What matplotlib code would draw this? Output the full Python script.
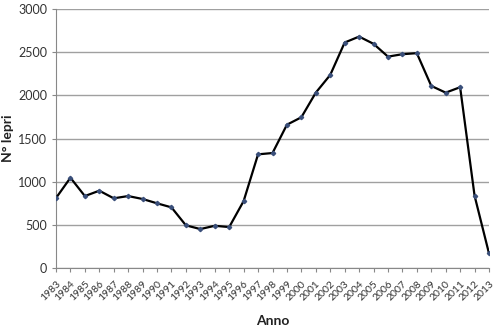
import numpy as np
import matplotlib.pyplot as plt

plt.rcParams['font.family'] = ['Lato', 'DejaVu Sans']

# dati: numero di lepri per anno
anni = list(range(1983, 2014))
lepri = [811, 1046, 834, 896, 808, 834, 800, 750, 703, 495,
         452, 490, 475, 776, 1317, 1332, 1660, 1746, 2031, 2236,
         2611, 2680, 2596, 2448, 2476, 2488, 2109, 2031, 2094, 838,
         170]

fig = plt.figure(figsize=(5, 3.31), dpi=100)
ax = fig.add_axes([0.112, 0.19, 0.866, 0.783])

x = np.arange(len(anni))
ax.plot(x, lepri, color='black', linewidth=1.6, marker='D', markersize=2.2,
        markerfacecolor='#3a4f7a', markeredgecolor='#3a4f7a', zorder=3)

ax.set_xlim(0, len(anni) - 1)
ax.set_ylim(0, 3000)
ax.set_yticks(range(0, 3001, 500))
ax.yaxis.grid(True, color='#a0a0a0', linewidth=1)
ax.set_axisbelow(True)

ax.set_xticks(x)
ax.set_xticklabels([str(a) for a in anni], rotation=45, ha='right',
                   rotation_mode='anchor', fontsize=7.5, color='#333333')
ax.tick_params(axis='x', direction='out', length=3, color='#888888', pad=5)
ax.tick_params(axis='y', length=3, color='#888888', labelsize=9, labelcolor='#333333')

for s in ['top', 'right']:
    ax.spines[s].set_visible(False)
for s in ['left', 'bottom']:
    ax.spines[s].set_color('#888888')

ax.set_xlabel('Anno', fontsize=10, fontweight='bold', color='#222222', va='top')
ax.xaxis.set_label_coords(0.5, -0.181)
ax.set_ylabel('N° lepri', fontsize=10, fontweight='bold', color='#222222')
ax.yaxis.set_label_coords(-0.097, 0.5)

fig.savefig('out.png', dpi=100)
